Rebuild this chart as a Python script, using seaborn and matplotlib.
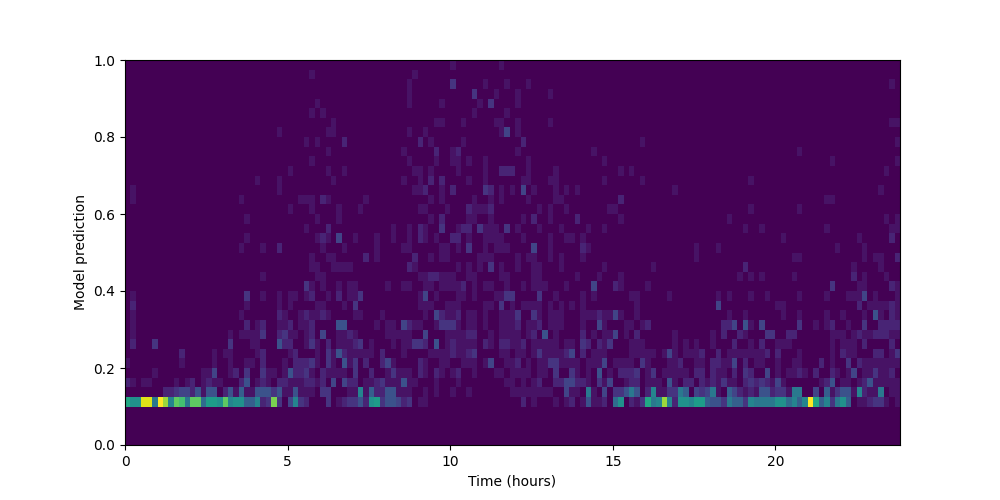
import numpy as np
from matplotlib import pyplot as plt
import seaborn as sns

# 2D histogram: 6 time bins per hour, 40 prediction bins
n_time = 143
n_pred = 40
vmax = 20
hour_ticks = [0, 5, 10, 15, 20]
pred_ticks = [0.0, 0.2, 0.4, 0.6, 0.8, 1.0]

# each row is a list of (time bin, count), empty cells are zero
row_04 = [(0,12),(1,10),(2,10),(3,19),(4,19),(5,8),(6,20),(7,17),(8,9),(9,15),(10,14),(11,8),(12,15),(13,15),(14,7),(15,11),(16,11),(17,10),(18,15),(19,9),(20,10),(21,10),(22,6),(23,6),(24,9),(25,2),(26,3),(27,16),(28,3),(30,4),(31,9),(32,3),(33,2),(37,3),(39,1),(40,2),(41,3),(42,3),(43,5),(44,2),(45,10),(46,11),(47,3),
          (48,5),(49,5),(50,4),(51,2),(52,3),(54,1),(55,1),(73,2),(75,1),(79,1),(81,1),(82,2),(84,1),(85,5),(86,1),(87,1),(88,2),(90,7),(91,10),(93,2),(94,1),(95,3),
          (96,12),(97,8),(98,9),(99,17),(100,9),(101,2),(102,10),(103,10),(104,9),(105,11),(106,11),(107,6),(108,5),(109,5),(110,3),(111,8),(112,6),(113,6),(114,3),(115,9),(116,8),(117,8),(118,8),(119,8),(120,10),(121,10),(122,7),(123,9),(124,6),(125,9),(126,20),(127,12),(128,6),(129,9),(130,3),(131,8),(132,10),(133,6),(135,1),(136,1),(137,2),(138,3),(139,3),(140,1),(142,1)]
row_05 = [(7,2),(8,2),(9,3),(10,4),(11,4),(12,2),(13,5),(14,1),(15,5),(16,5),(18,2),(19,5),(20,1),(21,6),(22,1),(23,1),(24,5),(25,5),(26,5),(27,3),(28,5),(29,1),(30,1),(31,5),(32,1),(33,1),(34,1),(36,3),(37,3),(41,1),(42,1),(43,9),(44,1),(45,6),(46,2),(47,2),
          (48,5),(49,5),(50,1),(51,1),(52,1),(55,1),(57,1),(60,1),(63,1),(71,1),(72,1),(73,1),(74,1),(75,1),(76,1),(77,1),(78,1),(81,4),(82,1),(83,1),(85,8),(86,1),(88,4),(90,3),(91,3),(92,5),(93,8),(94,5),
          (96,2),(97,9),(98,1),(99,1),(100,3),(101,3),(102,8),(103,6),(105,4),(106,3),(107,4),(108,8),(109,1),(111,6),(112,4),(113,2),(114,1),(115,2),(116,1),(117,5),(118,5),(119,2),(120,3),(121,3),(122,1),(123,8),(124,8),(127,4),(129,6),(130,1),(131,3),(132,5),(133,5),(134,1),(135,9),(136,2),(137,1),(138,1),(139,8),(141,1),(142,1)]
row_06 = [(0,2),(1,1),(3,1),(4,1),(9,1),(11,1),(12,2),(14,1),(15,2),(16,1),(17,1),(21,2),(22,5),(24,1),(25,2),(26,1),(28,2),(29,2),(30,1),(31,1),(32,1),(33,2),(34,2),(35,1),(36,2),(38,4),(40,4),(41,2),(42,2),(44,1),(45,1),(46,2),(47,3),
          (48,1),(49,1),(50,1),(51,5),(52,1),(53,1),(57,1),(61,1),(70,1),(71,1),(73,1),(75,1),(76,2),(79,2),(80,2),(81,4),(82,4),(83,2),(84,2),(85,1),(87,3),(88,1),(89,4),(92,1),(93,2),(94,2),
          (96,1),(97,1),(98,1),(100,5),(101,1),(103,2),(104,2),(106,2),(107,1),(108,2),(109,1),(110,3),(111,1),(112,1),(114,2),(115,3),(116,2),(117,3),(118,2),(119,1),(120,4),(121,1),(128,1),(129,2),(130,5),(132,1),(133,1),(135,1),(136,2),(137,5),(138,1),(139,1),(140,1),(141,1),(142,1)]
row_07 = [(5,1),(14,1),(15,1),(16,4),(19,1),(20,2),(22,3),(25,3),(26,1),(27,1),(29,1),(30,5),(31,2),(32,2),(33,3),(34,1),(36,2),(37,1),(38,1),(39,1),(40,1),(42,3),(45,2),
          (48,1),(49,3),(50,1),(51,1),(52,1),(54,2),(55,1),(57,2),(58,1),(60,1),(61,2),(64,1),(68,1),(69,1),(71,1),(72,1),(73,1),(74,1),(76,1),(77,1),(79,3),(82,3),(83,1),(85,1),(87,5),(89,1),(91,2),(92,2),(93,2),(94,3),
          (96,1),(97,3),(99,1),(100,1),(101,1),(102,1),(103,1),(105,2),(106,2),(108,2),(109,1),(110,1),(112,2),(114,3),(115,2),(118,4),(120,1),(122,1),(123,1),(124,2),(125,1),(127,2),(130,2),(131,1),(133,1),(134,4),(136,1),(137,1),(138,3),(139,1),(140,1),(141,2)]
row_08 = [(0,1),(10,1),(16,1),(19,1),(22,1),(23,1),(25,2),(29,1),(31,2),(32,2),(33,2),(34,3),(35,1),(37,3),(38,1),(40,5),(41,1),(42,3),(44,2),(47,2),
          (48,4),(49,1),(54,2),(55,1),(58,1),(59,1),(62,1),(63,1),(64,1),(66,1),(67,4),(70,1),(71,1),(72,2),(74,1),(76,1),(77,1),(78,3),(79,3),(80,1),(81,1),(82,1),(83,1),(85,1),(86,1),(87,1),(88,4),(90,1),(91,1),(92,1),(93,1),(95,3),
          (96,1),(100,1),(101,1),(102,2),(105,1),(106,1),(108,2),(109,2),(110,1),(111,1),(112,4),(114,2),(116,1),(117,1),(120,1),(123,1),(124,1),(128,2),(130,1),(133,3),(135,2),(136,1),(137,1),(138,1),(139,1),(140,1),(141,1),(142,1)]
row_09 = [(10,2),(16,1),(18,1),(19,1),(24,1),(25,2),(30,1),(31,2),(35,1),(37,3),(38,1),(39,5),(40,2),(41,1),(42,1),(43,1),(44,1),(45,1),(47,2),
          (51,1),(56,1),(57,1),(58,1),(59,1),(60,2),(61,1),(62,1),(63,2),(64,3),(69,1),(70,1),(72,1),(73,1),(75,1),(76,3),(77,1),(78,1),(79,1),(80,1),(81,2),(82,4),(84,2),(86,1),(87,1),(88,1),(93,1),(94,1),(95,1),
          (96,1),(97,1),(99,1),(100,4),(101,1),(103,1),(104,1),(105,1),(106,2),(109,2),(111,1),(112,1),(113,1),(114,1),(115,1),(116,1),(117,1),(118,2),(120,2),(124,1),(130,1),(132,2),(133,1),(134,1),(138,2),(139,2),(141,1),(142,3)]
row_10 = [(1,2),(5,3),(19,3),(23,1),(24,1),(28,5),(29,2),(30,2),(33,1),(34,3),(35,1),(37,2),(39,1),(40,1),(41,1),(42,2),(43,3),(45,1),
          (49,1),(51,1),(52,1),(53,3),(54,3),(55,2),(57,5),(59,1),(60,2),(61,1),(62,1),(63,1),(64,1),(66,2),(67,1),(69,2),(70,2),(71,1),(72,1),(73,2),(75,1),(76,1),(77,1),(78,1),(79,1),(81,1),(82,1),(84,3),(85,2),(87,2),(88,1),(89,3),(93,1),(94,1),(95,1),
          (101,1),(103,1),(105,1),(108,1),(112,2),(115,1),(117,2),(120,1),(121,1),(122,1),(130,1),(132,1),(133,1),(134,1),(136,2),(141,2)]
row_11 = [(1,1),(19,1),(21,1),(22,1),(23,1),(24,1),(25,3),(28,2),(29,3),(30,1),(31,1),(33,1),(34,2),(36,4),(39,1),(40,1),(41,2),(42,1),
          (48,1),(49,1),(50,1),(51,1),(52,1),(55,4),(59,1),(60,1),(61,1),(62,1),(63,2),(64,2),(67,1),(69,1),(70,1),(71,1),(72,1),(74,1),(75,2),(77,5),(79,1),(84,2),(86,1),(88,1),(89,1),(90,4),(92,1),(94,2),
          (101,1),(108,1),(110,2),(113,2),(114,1),(118,3),(119,3),(122,2),(123,2),(130,1),(131,1),(132,1),(134,1),(135,2),(136,1),(137,1),(138,2),(139,2),(140,2),(141,1),(142,1)]
row_12 = [(1,1),(22,2),(24,1),(25,2),(28,1),(29,1),(30,2),(32,1),(33,1),(34,2),(39,5),(40,5),(46,1),
          (48,1),(49,1),(51,4),(52,2),(53,1),(54,1),(57,1),(58,3),(59,3),(60,3),(61,1),(63,1),(64,1),(66,1),(69,1),(70,1),(71,1),(72,2),(74,1),(75,1),(76,2),(78,1),(79,1),(80,1),(84,1),(87,4),(88,1),(92,1),(93,1),(95,1),
          (96,2),(110,2),(111,2),(112,4),(114,5),(115,1),(117,4),(124,3),(127,1),(129,1),(130,2),(133,1),(136,3),(139,2),(140,2),(141,2),(142,2)]
row_13 = [(1,1),(21,1),(28,2),(29,1),(32,1),(33,2),(34,1),(35,1),(36,2),(37,1),(42,1),(43,1),(47,1),
          (55,1),(57,4),(58,2),(59,1),(60,1),(61,2),(63,1),(64,1),(66,1),(69,1),(70,1),(71,1),(72,3),(75,3),(76,1),(78,1),(79,1),(80,1),(84,1),(85,1),(86,1),(87,2),(88,1),(89,1),(90,4),(91,1),(94,1),
          (111,1),(114,1),(121,1),(124,1),(129,1),(132,1),(136,1),(138,5),(139,1),(141,2),(142,1)]
row_14 = [(1,2),(22,1),(28,1),(30,1),(35,1),(36,1),(40,1),(42,3),
          (54,1),(55,1),(56,1),(59,1),(60,1),(61,1),(66,1),(67,1),(69,3),(71,1),(73,1),(74,1),(75,1),(76,1),(78,1),(80,1),(82,1),(84,1),(94,1),
          (109,4),(120,1),(121,1),(135,2),(137,1),(138,1),(139,1),(140,1),(141,2),(142,1)]
row_15 = [(1,1),(22,3),(25,1),(28,1),(30,1),(31,1),(33,1),(34,2),(37,1),(39,2),(41,1),(42,1),(43,3),
          (54,1),(55,4),(57,1),(61,1),(62,1),(64,1),(68,1),(69,1),(70,3),(71,3),(76,3),(79,1),(84,1),(86,1),(93,1),(94,1),
          (100,1),(109,1),(111,1),(115,1),(118,1),(124,1),(129,1),(133,1),(134,1),(135,1),(136,4),(138,1),(142,1)]
row_16 = [(33,3),(34,1),(36,1),(39,1),(41,1),(42,1),
          (48,1),(51,1),(52,1),(55,1),(56,1),(58,1),(59,1),(60,1),(61,1),(62,2),(64,1),(66,1),(67,1),(70,1),(73,1),(75,1),(76,1),(77,1),(81,1),(86,4),(90,2),(91,1),
          (96,1),(130,3),(135,1),(136,1),(141,2),(142,1)]
row_17 = [(25,1),(35,1),(36,1),
          (54,1),(55,1),(56,2),(57,2),(58,1),(59,1),(60,1),(63,1),(64,1),(69,1),(70,1),(75,1),(76,1),(83,1),(87,1),(91,1),
          (113,1),(115,1),(117,1),(123,1),(134,2),(136,1),(140,1)]
row_18 = [(34,1),(35,1),(38,1),(39,1),(40,1),(41,1),
          (52,2),(53,1),(61,1),(63,1),(65,1),(67,3),(69,1),(72,1),(75,1),(76,1),(80,1),(88,1),
          (97,1),(114,2),(134,1),(139,1)]
row_19 = [(34,1),(37,1),(38,1),(44,2),(46,1),
          (53,2),(56,1),(58,1),(59,1),(65,1),(66,1),(67,1),(72,1),(74,1),(75,1),(78,1),(80,1),(84,1),
          (105,1),(123,1),(124,1),(136,1),(138,1),(139,1),(142,2)]
row_20 = [(21,1),(25,1),(28,2),(36,1),(40,1),(46,1),
          (51,1),(52,1),(58,1),(59,1),(61,1),(63,3),(66,1),(68,1),(69,1),(70,1),(75,4),(78,1),(84,2),(85,1),
          (105,1),(109,1),(131,1),(136,1)]
row_21 = [(22,1),(35,1),(36,2),(37,1),(39,4),(42,1),(46,1),
          (49,1),(52,1),(54,2),(55,1),(57,1),(60,2),(61,2),(63,1),(66,1),(67,1),(68,1),(69,1),(73,1),(78,1),(81,1),(82,1),(84,1),
          (121,1),(135,1),(141,2)]
row_22 = [(33,1),(37,2),
          (49,1),(52,1),(54,2),(55,1),(58,3),(61,1),(62,2),(63,2),(65,3),(66,1),(67,1),(68,1),(70,3),(72,1),(76,1),(80,1),(85,1),(88,1),
          (114,1),(117,1),(129,1),(141,1),(142,1)]
row_23 = [(22,1),(35,1),(39,1),
          (56,1),(58,2),(63,1),(64,1),(67,1),(73,1),(75,2),(78,1),(83,2),(91,1),
          (111,1),(140,1),(142,1)]
row_24 = [(30,1),(34,1),(39,1),(43,1),
          (54,1),(55,1),(59,1),(63,2),(64,1),(65,1),(66,1),(67,2),(76,1),(78,1),(81,1),(89,1),(90,1),
          (115,1),(124,1)]
row_25 = [(1,1),(21,1),(32,1),(33,1),(34,1),(36,2),(37,1),(44,1),
          (56,1),(58,1),(64,1),(67,1),(69,1),(74,1),(79,1),(80,1),(91,2),
          (129,1),(130,1)]
row_26 = [(1,1),(28,1),
          (53,1),(54,1),(55,2),(58,1),(60,2),(66,3),(67,2),(69,1),(71,1),(73,4),(75,1),(79,1),(81,1),(83,1),
          (101,1),(139,1)]
row_27 = [(24,1),(28,1),(38,1),
          (51,1),(54,1),(56,2),(58,2),(63,1),(66,1),(73,1),(74,1),(78,1),(79,1),(88,1),(95,1),
          (115,1)]
row_28 = [(30,1),(37,1),(40,1),
          (53,1),(54,1),(56,1),(61,1),(66,1),(69,2),(70,2),(71,2),(74,1),(79,1),(91,1),(93,1),
          (140,1)]
row_29 = [(34,1),
          (52,1),(57,1),(60,1),(61,1),(63,1),(66,1),(74,1),(88,1),
          (130,1),(142,1)]
row_30 = [(37,1),
          (51,1),(57,2),(60,1),(61,2),(72,1),(86,1),
          (124,1)]
row_31 = [(33,1),(35,1),(40,2),
          (54,2),(56,1),(62,1),(73,2),(95,1),
          (142,1)]
row_32 = [(28,1),(37,1),(38,1),
          (52,1),(55,1),(69,1),(70,4),(72,1)]
row_33 = [(38,1),
          (57,1),(58,1),(62,1),(68,1),(69,1),(72,1),(78,1),
          (141,1),(142,1)]
row_34 = [(34,1),(36,1),(64,1),(70,1)]
row_35 = [(35,1),(52,1),(58,1),(65,1),(67,3),(72,1)]
row_36 = [(52,1),(64,3),(68,1),(72,1),(78,1)]
row_37 = [(52,1),(60,3),(66,1),(70,1),(74,1),(141,1)]
row_38 = [(34,1),(53,1)]
row_39 = [(60,1),(69,1)]

rows = {4: row_04, 5: row_05, 6: row_06, 7: row_07, 8: row_08, 9: row_09, 10: row_10,
        11: row_11, 12: row_12, 13: row_13, 14: row_14, 15: row_15, 16: row_16, 17: row_17,
        18: row_18, 19: row_19, 20: row_20, 21: row_21, 22: row_22, 23: row_23, 24: row_24,
        25: row_25, 26: row_26, 27: row_27, 28: row_28, 29: row_29, 30: row_30, 31: row_31,
        32: row_32, 33: row_33, 34: row_34, 35: row_35, 36: row_36, 37: row_37, 38: row_38,
        39: row_39}

counts = np.zeros((n_pred, n_time))
for r, cells in rows.items():
    for col, c in cells:
        counts[r, col] = c

fig = plt.figure(figsize=(10, 5), dpi=100)
ax = fig.add_subplot(111)
sns.heatmap(counts, cmap='viridis', vmin=0, vmax=vmax, cbar=False, ax=ax,
            xticklabels=False, yticklabels=False)

# heatmap axes run in cell units, so map the hours and predictions onto them
ax.set_xlim(0, n_time)
ax.set_ylim(0, n_pred)
ax.set_xticks([h * 6 for h in hour_ticks])
ax.set_xticklabels([str(h) for h in hour_ticks], rotation=0)
ax.set_yticks([p * n_pred for p in pred_ticks])
ax.set_yticklabels([f"{p:.1f}" for p in pred_ticks], rotation=0)
ax.tick_params(left=True, bottom=True)
for spine in ax.spines.values():
    spine.set_visible(True)

plt.xlabel("Time (hours)")
plt.ylabel("Model prediction")

fig.savefig("out.png", dpi=100)
